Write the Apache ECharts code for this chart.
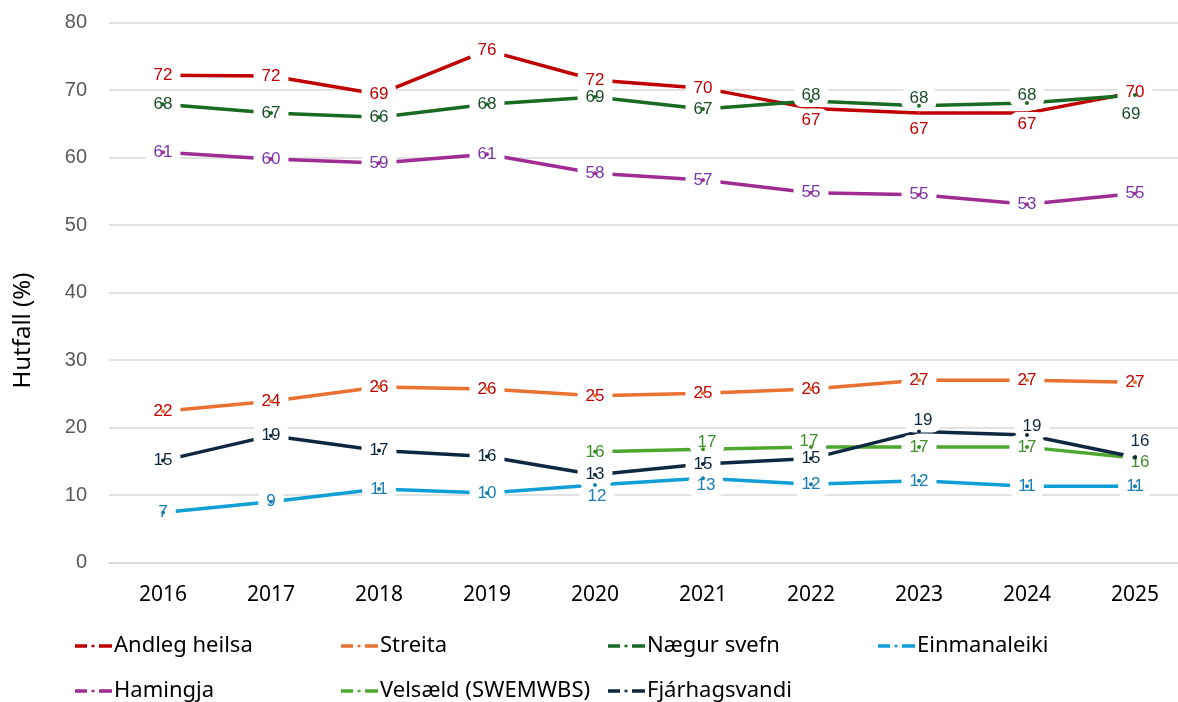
<!DOCTYPE html>
<html>
<head>
<meta charset="utf-8">
<title>Hlutfall</title>
<script src="https://cdn.jsdelivr.net/npm/echarts@6/dist/echarts.min.js"></script>
<style>
  html, body { margin: 0; padding: 0; background: #fff; }
  #chart { width: 1178px; height: 702px; }
</style>
</head>
<body>
<div id="chart"></div>
<script>
// gögn lesin af myndinni
const years = ['2016', '2017', '2018', '2019', '2020', '2021', '2022', '2023', '2024', '2025']
const andlegHeilsa = [72.2, 72.1, 69.4, 75.9, 71.5, 70.3, 67.3, 66.6, 66.6, 69.7]
const streita = [22.4, 23.9, 26.0, 25.7, 24.7, 25.1, 25.7, 27.0, 27.0, 26.7]
const naegurSvefn = [67.9, 66.6, 66.0, 67.9, 69.0, 67.2, 68.4, 67.7, 68.1, 69.3]
const einmanaleiki = [7.4, 9.0, 10.9, 10.3, 11.5, 12.5, 11.6, 12.1, 11.3, 11.3]
const hamingja = [60.8, 59.8, 59.2, 60.5, 57.7, 56.7, 54.8, 54.5, 53.1, 54.7]
const velsaeld = [null, null, null, null, 16.4, 16.8, 17.1, 17.1, 17.1, 15.5]
const fjarhagsvandi = [15.1, 18.8, 16.6, 15.7, 13.0, 14.6, 15.4, 19.4, 18.9, 15.6]
const yTicks = [0, 10, 20, 30, 40, 50, 60, 70, 80]

const font = '"Noto Sans", sans-serif'
const labelFont = '"Liberation Sans", Arial, sans-serif'

// lína, litur merkimiða, litur punkts, hliðrun merkimiða (index -> [dx, dy])
const seriesDefs = [
  { name: 'Andleg heilsa', data: andlegHeilsa, color: '#C00000', label: '#C00000', dot: null,
    offsets: { 6: [0, 12], 7: [0, 16], 8: [0, 11] } },
  { name: 'Streita', data: streita, color: '#E97132', label: '#C00000', dot: '#E97132', offsets: {} },
  { name: 'Nægur svefn', data: naegurSvefn, color: '#196B24', label: '#1B4D2A', dot: '#196B24',
    offsets: { 6: [0, -6], 7: [0, -7], 8: [0, -8], 9: [-4, 19] } },
  { name: 'Einmanaleiki', data: einmanaleiki, color: '#0F9ED5', label: '#1A7DB5', dot: '#1A7DB5',
    offsets: { 4: [2, 11], 5: [3, 7] } },
  { name: 'Hamingja', data: hamingja, color: '#A02B93', label: '#7A36A8', dot: '#A02B93', offsets: {} },
  { name: 'Velsæld (SWEMWBS)', data: velsaeld, color: '#4EA72E', label: '#3F8F2A', dot: '#3F8F2A',
    offsets: { 5: [4, -7], 6: [-2, -6], 9: [5, 4] } },
  { name: 'Fjárhagsvandi', data: fjarhagsvandi, color: '#0E2841', label: '#0E2841', dot: '#0E2841',
    offsets: { 7: [4, -11], 8: [5, -9], 9: [5, -16] } }
]

const legendPos = [
  [75, 635], [341, 635], [608, 635], [878, 635],
  [75, 680], [341, 680], [608, 680]
]

const chart = echarts.init(document.getElementById('chart'))

const series = []
seriesDefs.forEach(d => {
  series.push({
    name: d.name,
    type: 'line',
    data: d.data,
    z: 2,
    symbol: 'none',
    lineStyle: { color: d.color, width: 3.5 },
    itemStyle: { color: d.color },
    connectNulls: false
  })
})
seriesDefs.forEach((d, si) => {
  series.push({
    name: '_lbl' + si,
    type: 'scatter',
    z: 3,
    symbolSize: 1,
    silent: true,
    itemStyle: { color: '#fff', opacity: 1 },
    data: d.data.map((v, i) => ({
      value: v,
      label: { offset: d.offsets[i] || [0, 0] }
    })),
    label: {
      show: true,
      position: 'inside',
      formatter: p => Math.round(p.value),
      color: d.label,
      fontFamily: labelFont,
      fontSize: 17,
      backgroundColor: '#fff',
      padding: [4, 8, 3, 8],
      borderRadius: 8
    }
  })
})
seriesDefs.forEach((d, si) => {
  if (!d.dot) return
  series.push({
    name: '_dot' + si,
    type: 'scatter',
    z: 4,
    symbolSize: 4,
    silent: true,
    itemStyle: { color: d.dot, opacity: 1 },
    data: d.data
  })
})

chart.setOption({
  animation: false,
  textStyle: { fontFamily: font },
  grid: { left: 109, top: 22.7, width: 1080, height: 539.8, outerBoundsMode: 'none', containLabel: false },
  legend: seriesDefs.map((d, i) => ({
    left: legendPos[i][0],
    top: legendPos[i][1],
    padding: 0,
    data: [d.name],
    icon: 'path://M0,0h12v3.5H0z M16.5,0.5h3v2.5h-3z M24,0h13v3.5H24z',
    itemWidth: 37,
    itemHeight: 3.5,
    selectedMode: false,
    textStyle: { fontSize: 22, color: '#000', fontFamily: font, padding: [0, 0, 0, -3] }
  })),
  xAxis: {
    type: 'category',
    data: years,
    boundaryGap: true,
    axisLine: { lineStyle: { color: '#D9D9D9', width: 1.5 } },
    axisTick: { show: false },
    axisLabel: { color: '#000', fontSize: 21, margin: 22, fontFamily: font }
  },
  yAxis: {
    type: 'value',
    min: yTicks[0],
    max: yTicks[yTicks.length - 1],
    interval: yTicks[1] - yTicks[0],
    name: 'Hutfall (%)',
    nameLocation: 'middle',
    nameRotate: 90,
    nameGap: 74,
    nameTextStyle: { color: '#000', fontSize: 24, fontFamily: font, padding: [0, 76, 0, 0] },
    axisLine: { show: false },
    axisTick: { show: false },
    axisLabel: { color: '#595959', fontSize: 20, margin: 22, fontFamily: labelFont },
    splitLine: { lineStyle: { color: '#D9D9D9', width: 1.5 } }
  },
  series: series
})
</script>
</body>
</html>
